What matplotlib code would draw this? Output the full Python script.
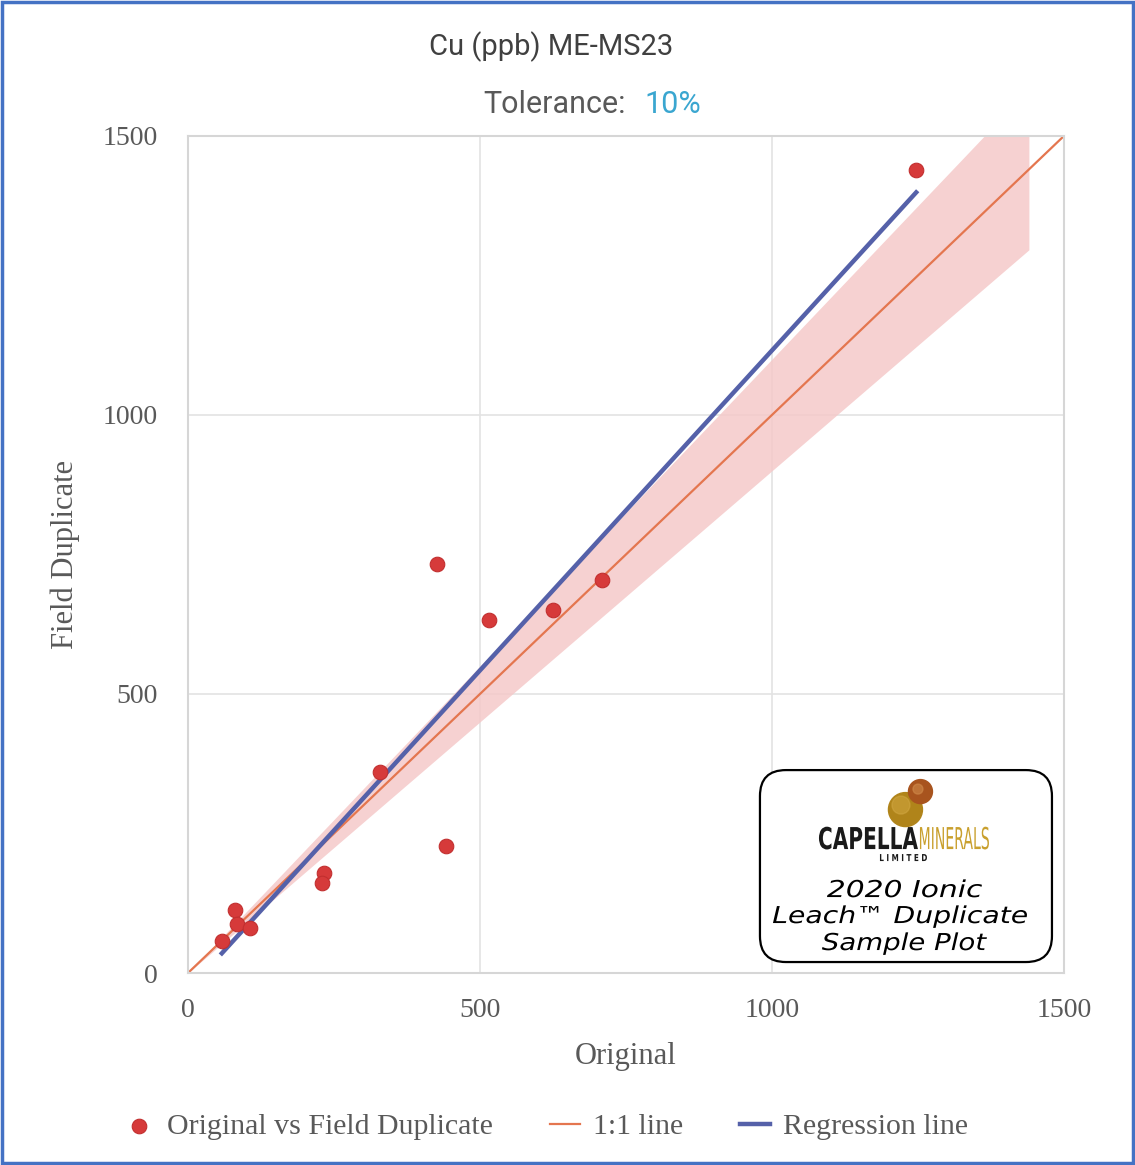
"""Field duplicate vs original scatter, Cu (ppb) ME-MS23."""

import matplotlib

matplotlib.use("Agg")
import matplotlib.pyplot as plt
import numpy as np
from matplotlib.font_manager import FontProperties
from matplotlib.patches import Circle, FancyBboxPatch, PathPatch, Rectangle
from matplotlib.textpath import TextPath
from matplotlib.transforms import Affine2D

# data
original = [1247, 426, 515, 625, 709, 329, 442, 233, 230, 80, 84, 107, 58]
field_duplicate = [1439, 733, 633, 651, 704, 360, 228, 179, 161, 113, 88, 80, 57]
tolerance = 0.10
band_end = 1440
axis_max = 1500
ticks = [0, 500, 1000, 1500]

RED = "#d63a3a"
ORANGE = "#e4764f"
BLUE = "#5561a9"
BAND = "#f5c9c9"
GREY = "#595959"


def path_text(ax, s, x0, x1, base, cap, prop, color):
    """Draw s as a filled path stretched to span x0..x1 with given cap height."""
    tp = TextPath((0, 0), s, size=10, prop=prop)
    ext = tp.get_extents()
    caph = TextPath((0, 0), "H", size=10, prop=prop).get_extents().height
    tr = (Affine2D().translate(-ext.x0, 0)
          .scale((x1 - x0) / ext.width, cap / caph).translate(x0, base))
    ax.add_patch(PathPatch(tr.transform_path(tp), fc=color, ec="none"))


def main() -> None:
    fig = plt.figure(figsize=(11.35, 11.65), dpi=100)
    ax = fig.add_axes([0.1656, 0.1648, 0.7718, 0.7185])

    # tolerance band around 1:1 line
    bx = np.array([0, band_end])
    ax.fill_between(bx, bx * (1 - tolerance), bx * (1 + tolerance), color=BAND, alpha=0.85,
                    lw=0, zorder=1)

    one = np.array([0, axis_max])
    ax.plot(one, one, color=ORANGE, lw=1.6, zorder=2, label="1:1 line")

    slope, icpt = np.polyfit(original, field_duplicate, 1)
    rx = np.array([min(original), max(original)])
    ax.plot(rx, slope * rx + icpt, color=BLUE, lw=3.2, zorder=3, label="Regression line")

    ax.scatter(original, field_duplicate, s=110, color=RED, edgecolor="#c22f2f", lw=0.8,
               zorder=4, label="Original vs Field Duplicate")

    ax.set_xlim(0, axis_max)
    ax.set_ylim(0, axis_max)
    ax.set_xticks(ticks)
    ax.set_yticks(ticks)
    ax.grid(True, color="#e3e3e3", lw=1.2, zorder=0)
    ax.set_axisbelow(True)
    for s in ax.spines.values():
        s.set_color("#d6d6d6")
        s.set_linewidth(1.5)
    ax.tick_params(length=0, labelsize=20, labelcolor=GREY)
    ax.tick_params(axis="x", pad=18)
    ax.tick_params(axis="y", pad=22)
    for lab in ax.get_xticklabels() + ax.get_yticklabels():
        lab.set_family("Liberation Serif")

    ax.set_xlabel("Original", family="Liberation Serif", fontsize=22, color=GREY, labelpad=14)
    ax.set_ylabel("Field Duplicate", family="Liberation Serif", fontsize=22, color=GREY,
                  labelpad=16)

    # titles
    fig.text(0.486, 0.9597, "Cu (ppb) ME-MS23", ha="center", va="center", family="Roboto",
             fontsize=21, color="#404040")
    fig.text(0.426, 0.9107, "Tolerance:", ha="left", va="center", family="Roboto",
             fontsize=22, color=GREY)
    fig.text(0.568, 0.9107, "10%", ha="left", va="center", family="Roboto",
             fontsize=22, color="#3aa6d0")

    # legend
    h, lbl = ax.get_legend_handles_labels()
    order = [2, 0, 1]
    leg = fig.legend([h[i] for i in order], [lbl[i] for i in order], loc="center",
                     bbox_to_anchor=(0.481, 0.033), ncol=3, frameon=False,
                     handlelength=1.0, columnspacing=1.9, handletextpad=0.45,
                     prop={"family": "Liberation Serif", "size": 21.5})
    for t in leg.get_texts():
        t.set_color(GREY)

    # logo box
    lx = fig.add_axes([0.6678, 0.1725, 0.2608, 0.1682])
    lx.set_xlim(0, 296)
    lx.set_ylim(0, 196)
    lx.axis("off")
    lx.add_patch(FancyBboxPatch((2, 2), 292, 192, boxstyle="round,pad=0,rounding_size=26",
                                fc="white", ec="black", lw=1.6))
    lx.add_patch(Circle((147.5, 154.5), 17, color="#b0841a"))
    lx.add_patch(Circle((143, 159), 9, color="#d4aa45", alpha=0.5))
    lx.add_patch(Circle((162.5, 172.5), 12, color="#a8541e"))
    lx.add_patch(Circle((160, 175), 5, color="#d08a4a", alpha=0.6))

    bold = FontProperties(family="DejaVu Sans", weight="bold")
    plain = FontProperties(family="DejaVu Sans")
    ital = FontProperties(family="DejaVu Sans", style="italic")
    path_text(lx, "CAPELLA", 61, 160, 115, 22, bold, "#1a1a1a")
    path_text(lx, "MINERALS", 162, 231, 115, 22, plain, "#c9a02e")
    path_text(lx, "L I M I T E D", 122, 169, 103, 7, bold, "#1a1a1a")
    path_text(lx, "2020 Ionic", 69, 224, 67, 17, ital, "black")
    path_text(lx, "Leach™ Duplicate", 15, 269, 41, 17, ital, "black")
    path_text(lx, "Sample Plot", 64, 229, 14, 17, ital, "black")

    # outer border
    fig.add_artist(Rectangle((0.002, 0.002), 0.996, 0.996, transform=fig.transFigure,
                             fill=False, ec="#4472c4", lw=2.5))

    fig.savefig("out.png", dpi=100)


if __name__ == "__main__":
    main()
